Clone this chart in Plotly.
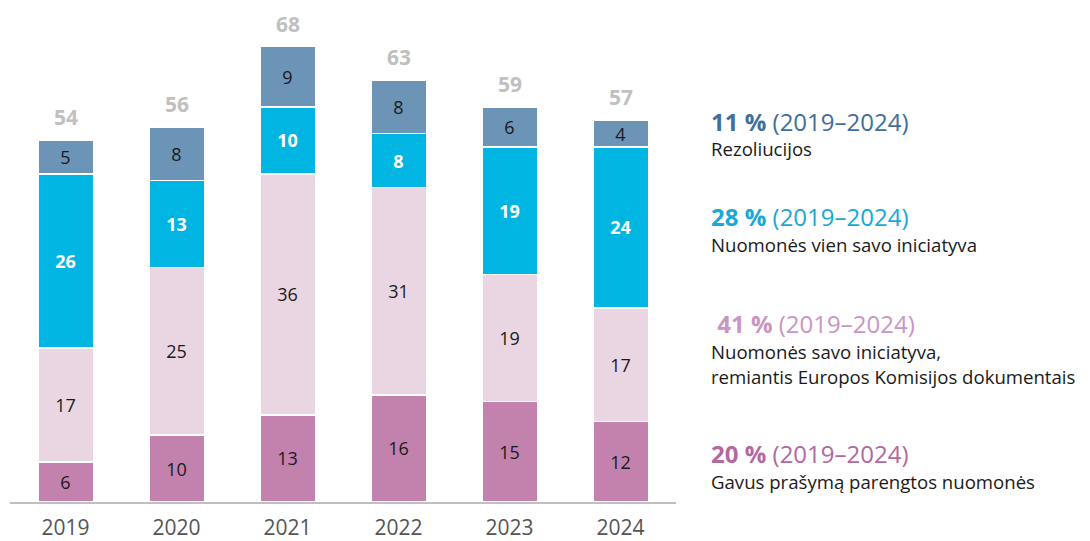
import plotly.graph_objects as go

years = ["2019", "2020", "2021", "2022", "2023", "2024"]
gavus = [6, 10, 13, 16, 15, 12]
remiantis_ek = [17, 25, 36, 31, 19, 17]
vien_savo = [26, 13, 10, 8, 19, 24]
rezoliucijos = [5, 8, 9, 8, 6, 4]
totals = [54, 56, 68, 63, 59, 57]

FONT = "Open Sans"
W, H = 1082, 533          # page has an 8px body margin
AXIS_Y = 498              # x-axis line, figure pixels
PLOT_W = W - 2

series = [
    ("Gavus prašymą parengtos nuomonės", gavus, "#c282ad", "#1a1a1a", False),
    ("Nuomonės savo iniciatyva, remiantis EK dokumentais", remiantis_ek, "#ead6e3", "#1a1a1a", False),
    ("Nuomonės vien savo iniciatyva", vien_savo, "#00b5e2", "#ffffff", True),
    ("Rezoliucijos", rezoliucijos, "#6b94b6", "#1a1a1a", False),
]

fig = go.Figure()
for name, vals, col, tcol, bold in series:
    fig.add_trace(go.Bar(
        x=years, y=vals, name=name,
        marker=dict(color=col, line=dict(color="white", width=1.5)),
        text=[f"<b>{v}</b>" if bold else str(v) for v in vals],
        textposition="inside", insidetextanchor="middle",
        textangle=0, constraintext="none",
        textfont=dict(family=FONT, size=18, color=tcol),
        hoverinfo="skip",
    ))

# totals above the bars (category index, since "2019" reads as a number)
for i, t in enumerate(totals):
    fig.add_annotation(
        x=i, y=t, text=f"<b>{t}</b>", showarrow=False,
        yanchor="middle", yshift=23,
        font=dict(family=FONT, size=21, color="#c0c0c0"),
    )

# legend on the right side (page pixel positions)
legend_items = [
    ("11 %", "#3f6f9a", ["Rezoliucijos"], 122),
    ("28 %", "#1aa8d6", ["Nuomonės vien savo iniciatyva"], 218),
    ("&nbsp;41 %", "#c996c2", ["Nuomonės savo iniciatyva,",
                               "remiantis Europos Komisijos dokumentais"], 326),
    ("20 %", "#b3689f", ["Gavus prašymą parengtos nuomonės"], 457),
]


def py(page_y):
    return (AXIS_Y - (page_y - 8)) / AXIS_Y


lx = (709 - 10) / PLOT_W
for pct, col, lines, ypx in legend_items:
    fig.add_annotation(
        xref="paper", yref="paper", x=lx, y=py(ypx),
        xanchor="left", yanchor="middle", showarrow=False,
        text=f"<b>{pct}</b> (2019–2024)",
        font=dict(family=FONT, size=24, color=col),
    )
    for i, ln in enumerate(lines):
        fig.add_annotation(
            xref="paper", yref="paper", x=lx, y=py(ypx + 28 + i * 25),
            xanchor="left", yanchor="middle", showarrow=False,
            text=ln, font=dict(family=FONT, size=18.6, color="#1a1a1a"),
        )

fig.update_layout(
    width=W, height=H,
    barmode="stack", bargap=0.5,
    showlegend=False,
    plot_bgcolor="white", paper_bgcolor="white",
    margin=dict(l=2, r=0, t=0, b=H - AXIS_Y),
    xaxis=dict(domain=[0, 666 / PLOT_W], range=[-0.5, 5.5],
               showline=True, linecolor="#bfbfbf", linewidth=1.5,
               ticks="", ticklabelstandoff=6,
               tickfont=dict(family=FONT, size=21, color="#555555")),
    yaxis=dict(range=[0, AXIS_Y / 6.75], visible=False, showgrid=False),
)

fig.write_html("out.html")
